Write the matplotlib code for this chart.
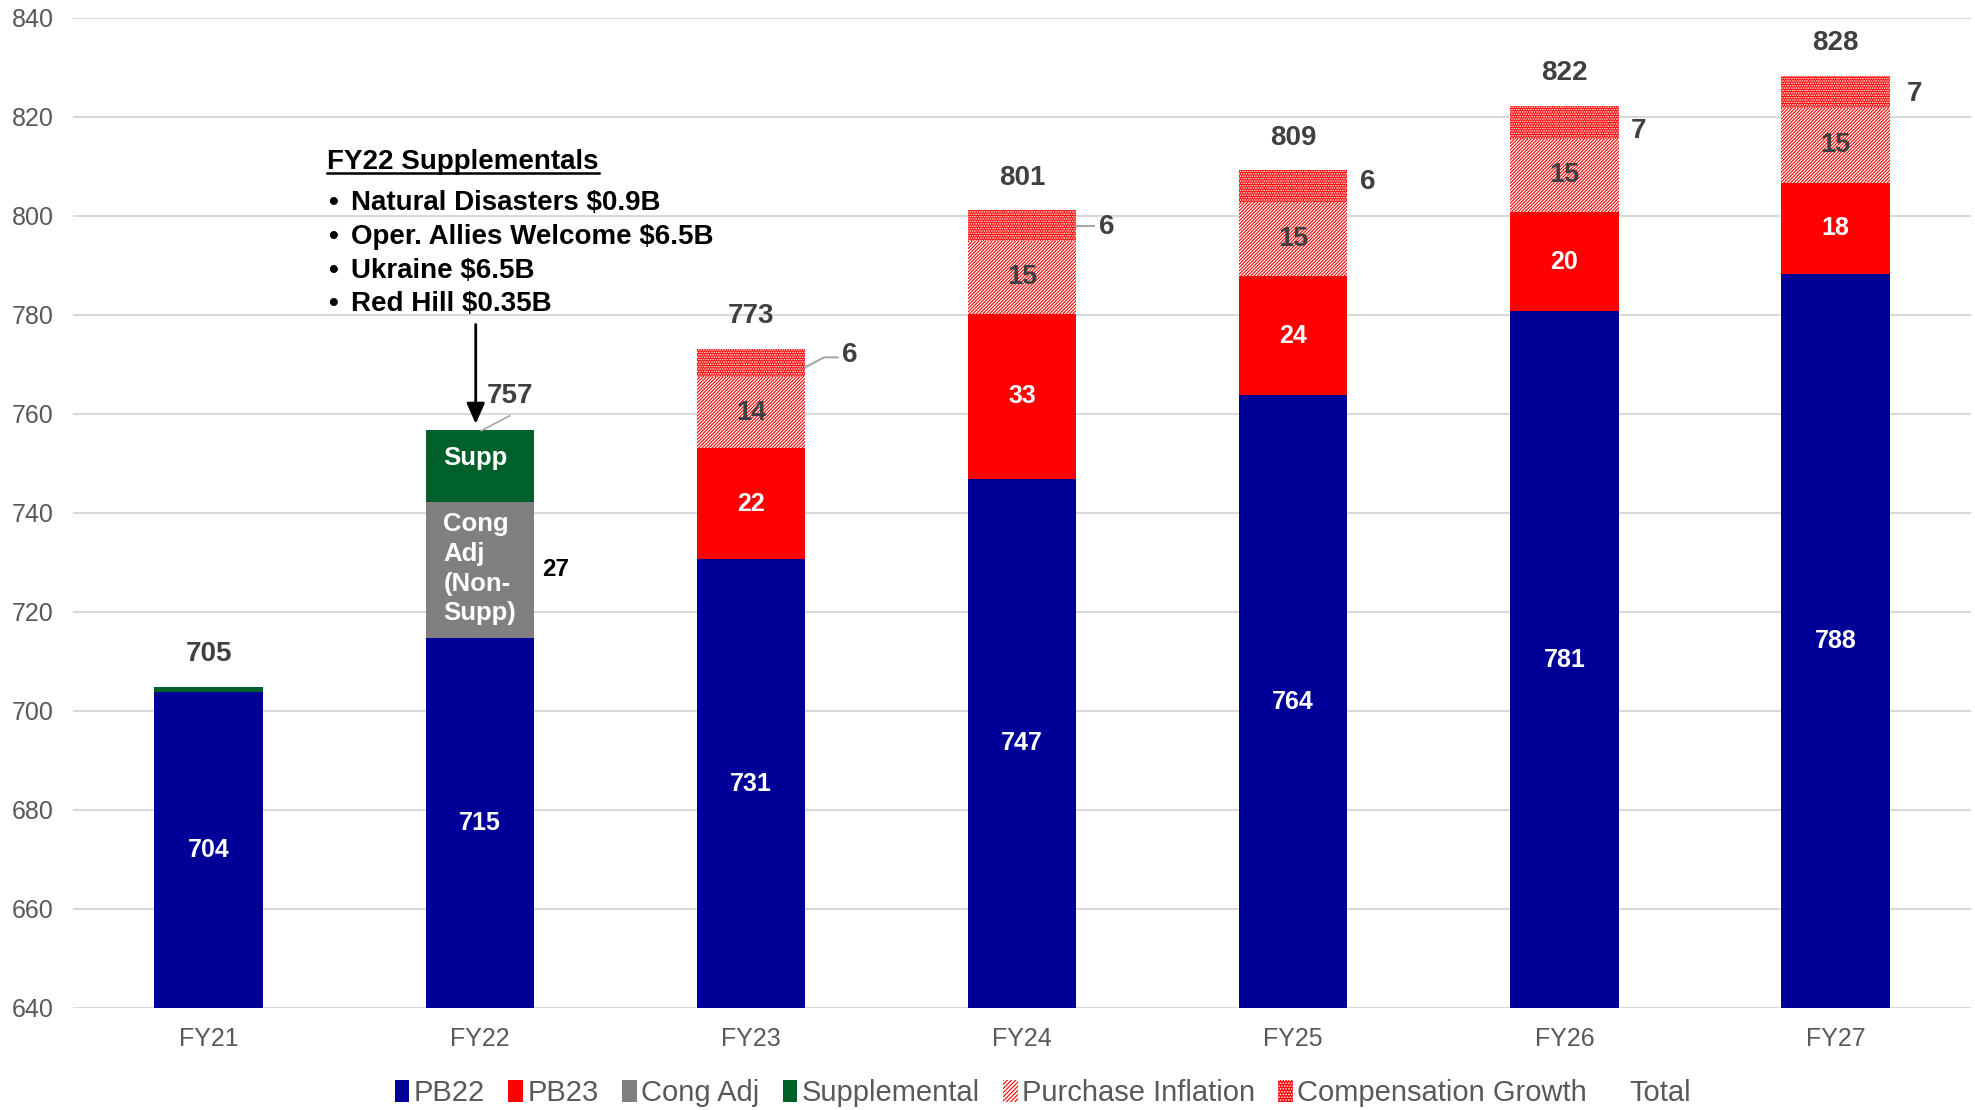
import numpy as np
import matplotlib
matplotlib.use('Agg')
import matplotlib.pyplot as plt
from matplotlib.patches import Patch

plt.rcParams['font.family'] = ['Liberation Sans', 'DejaVu Sans']
plt.rcParams['hatch.linewidth'] = 0.8

# values in $B
years = ['FY21', 'FY22', 'FY23', 'FY24', 'FY25', 'FY26', 'FY27']
pb22 = [703.8, 714.8, 730.6, 746.9, 763.7, 780.7, 788.3]
pb23 = [0, 0, 22.4, 33.3, 24.1, 20.1, 18.4]
cong_adj = [0, 27.4, 0, 0, 0, 0, 0]
supplemental = [1.0, 14.6, 0, 0, 0, 0, 0]
purchase_infl = [0, 0, 14.4, 14.8, 15.0, 14.8, 15.0]
comp_growth = [0, 0, 5.7, 6.1, 6.4, 6.6, 6.6]

supp_notes = ['Natural Disasters $0.9B', 'Oper. Allies Welcome $6.5B',
              'Ukraine $6.5B', 'Red Hill $0.35B']

NAVY = '#000099'
RED = '#FF0000'
GRAY = '#808080'
GREEN = '#00602B'
DARK = '#404040'

x = np.arange(len(years))
w = 0.4

fig = plt.figure(figsize=(19.75, 11.1), dpi=100)
ax = fig.add_axes([0.037, 0.092, 0.961, 0.892])

bottom = np.zeros(len(years))
ax.bar(x, pb22, w, bottom=bottom, color=NAVY, lw=0)
bottom = bottom + pb22
ax.bar(x, pb23, w, bottom=bottom, color=RED, lw=0)
bottom = bottom + pb23
ax.bar(x, cong_adj, w, bottom=bottom, color=GRAY, lw=0)
bottom = bottom + cong_adj
ax.bar(x, supplemental, w, bottom=bottom, color=GREEN, lw=0)
bottom = bottom + supplemental
pi_bottom = bottom.copy()
ax.bar(x, purchase_infl, w, bottom=bottom, facecolor='white', edgecolor=RED,
       hatch='/' * 10, lw=0)
bottom = bottom + purchase_infl
ax.bar(x, comp_growth, w, bottom=bottom, facecolor=RED, edgecolor='white',
       hatch='.' * 7, lw=0)
total = bottom + comp_growth

ax.set_xlim(-0.5, len(years) - 0.5)
ax.set_ylim(640, 840)
ax.set_yticks(range(640, 841, 20))
ax.set_xticks(x)
ax.set_xticklabels(years)
ax.yaxis.grid(True, color='#D9D9D9', lw=1.5)
ax.set_axisbelow(True)
for s in ax.spines.values():
    s.set_visible(False)
ax.tick_params(length=0, labelsize=18, labelcolor='#595959')
ax.tick_params(axis='y', pad=14)
ax.tick_params(axis='x', pad=14)

lbl = dict(ha='center', va='center', fontweight='bold')

for i in x:
    ax.text(i, (640 + pb22[i]) / 2, f'{round(pb22[i])}', color='white', fontsize=18, **lbl)
    if pb23[i]:
        ax.text(i, pb22[i] + pb23[i] / 2, f'{round(pb23[i])}', color='white', fontsize=18, **lbl)
    if purchase_infl[i]:
        ax.text(i, pi_bottom[i] + purchase_infl[i] / 2, f'{round(purchase_infl[i])}',
                color=DARK, fontsize=19.5, **lbl)

# compensation growth labels sit to the right of the bar
cg_pos = {2: (2.365, 771.8), 3: (3.313, 797.8), 4: (4.275, 806.9),
          5: (5.274, 817.1), 6: (6.292, 824.7)}
for i, (lx, ly) in cg_pos.items():
    ax.text(lx, ly, f'{round(comp_growth[i])}', color=DARK, fontsize=20, **lbl)
ax.plot([2.2, 2.27, 2.32], [769.4, 771.4, 771.4], color='#A6A6A6', lw=1.5)
ax.plot([3.2, 3.265], [797.9, 797.9], color='#A6A6A6', lw=1.5)

# totals
for i in x:
    if i == 1:
        continue
    ax.text(i, total[i] + 6.6, f'{round(total[i])}', color=DARK, fontsize=20, **lbl)
ax.text(1.11, 763.5, f'{round(total[1])}', color=DARK, fontsize=20, **lbl)
ax.plot([1.006, 1.11], [756.6, 759.6], color='#A6A6A6', lw=1.2)

# FY22 segments
ax.text(0.985, pb22[1] + cong_adj[1] + supplemental[1] / 2 + 1.6, 'Supp',
        color='white', fontsize=18.5, **lbl)
ax.text(0.866, pb22[1] + cong_adj[1] / 2 + 0.2, 'Cong\nAdj\n(Non-\nSupp)', color='white',
        fontsize=18.5, fontweight='bold', ha='left', va='center', linespacing=1.3)
ax.text(1.28, pb22[1] + cong_adj[1] / 2, f'{round(cong_adj[1])}', color='black',
        fontsize=17.5, **lbl)

# supplementals note
title = ax.text(0.437, 810.9, 'FY22 Supplementals', fontsize=20, fontweight='bold',
                ha='left', va='center', color='black')
for k, note in enumerate(supp_notes):
    yy = 802.5 - k * 6.8
    ax.text(0.44, yy, '•', fontsize=20, fontweight='bold', ha='left', va='center')
    ax.text(0.525, yy, note, fontsize=20, fontweight='bold', ha='left', va='center')
fig.canvas.draw()
bb = title.get_window_extent().transformed(ax.transData.inverted())
ax.plot([bb.x0, bb.x1], [bb.y0 + 0.3, bb.y0 + 0.3], color='black', lw=1.8)

ax.annotate('', xy=(0.985, 757.4), xytext=(0.985, 778.6),
            arrowprops=dict(arrowstyle='-|>,head_length=0.5,head_width=0.22',
                            color='black', lw=2, mutation_scale=25))

handles = [
    Patch(facecolor=NAVY, lw=0, label='PB22'),
    Patch(facecolor=RED, lw=0, label='PB23'),
    Patch(facecolor=GRAY, lw=0, label='Cong Adj'),
    Patch(facecolor=GREEN, lw=0, label='Supplemental'),
    Patch(facecolor='white', edgecolor=RED, hatch='/' * 8, lw=0, label='Purchase Inflation'),
    Patch(facecolor=RED, edgecolor='white', hatch='.' * 6, lw=0, label='Compensation Growth'),
    Patch(facecolor='none', edgecolor='none', label='Total'),
]
leg = ax.legend(handles=handles, loc='center', bbox_to_anchor=(0.511, -0.086), ncol=7,
                frameon=False, fontsize=21, handlelength=0.5, handleheight=0.75,
                handletextpad=0.15, columnspacing=0.8)
for t in leg.get_texts():
    t.set_color('#595959')

fig.savefig('out.png', dpi=100)
